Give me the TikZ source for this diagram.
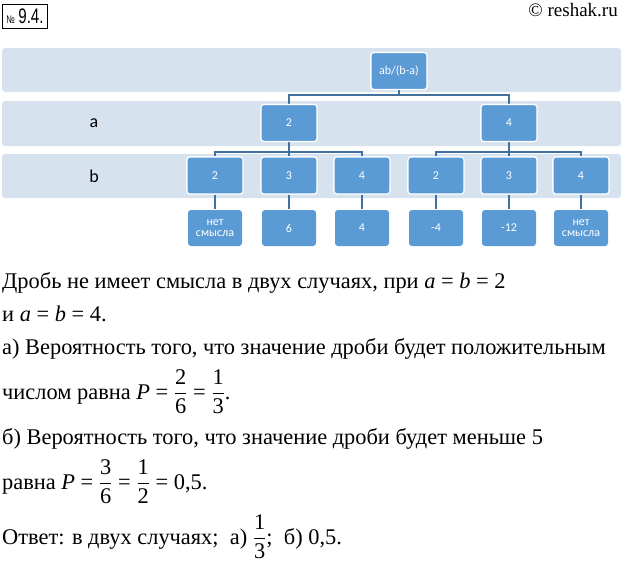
\documentclass[tikz,border=0pt]{standalone}
\usepackage{amsmath}
\usepackage{fontspec}
\setmainfont{Liberation Serif}
\newfontfamily\bodyfont{Liberation Serif}
\newfontfamily\calib{Carlito}
\newfontfamily\hdrfont{Liberation Sans}[FakeStretch=0.72]
\newfontfamily\timesplain{Liberation Serif}
\definecolor{bandc}{RGB}{214,227,239}
\definecolor{nodec}{RGB}{91,155,213}
\definecolor{linec}{RGB}{65,113,156}
\newcommand{\fr}[2]{$\dfrac{\text{\bodyfont #1}}{\text{\bodyfont #2}}$}
\tikzset{
  band/.style={fill=bandc, rounded corners=3pt},
  tnode/.style={fill=nodec, draw=white, line width=1.1pt, rounded corners=3pt,
    minimum width=56pt, minimum height=37pt, inner sep=0pt, text=white,
    font=\calib\fontsize{12}{13}\selectfont, align=center},
  rnode/.style={tnode, draw=none, minimum width=54pt, minimum height=36pt},
  conn/.style={draw=linec, line width=1.2pt},
  lab/.style={font=\calib\fontsize{18}{20}\selectfont, text=black},
  body/.style={anchor=base west, inner sep=0pt, font=\bodyfont\fontsize{22.4}{27}\selectfont}
}
\begin{document}
\begin{tikzpicture}[x=1pt,y=-1pt]
\useasboundingbox (0,0) rectangle (623,565);
% header
\node[draw, line width=1pt, inner sep=1pt, anchor=north west, minimum width=45pt, minimum height=24pt, font=\hdrfont\fontsize{21}{21}\selectfont] (num) at (2,4) {{\fontsize{11}{11}\selectfont №}\,9.4.};
\node[anchor=base east, inner sep=0pt, font=\timesplain\fontsize{19}{20}\selectfont] (site) at (618,16) {© reshak.ru};
% bands
\fill[band] (2,48) rectangle (621,92);
\fill[band] (2,101) rectangle (621,146);
\fill[band] (2,154) rectangle (621,198);
\node[lab] (la) at (94,123) {a};
\node[lab] (lb) at (94,176) {b};
% connector bus levels
\coordinate (bus0) at (0,95);
\coordinate (bus1) at (0,152);
% nodes
\node[tnode] (top) at (399,71) {ab/(b-a)};
\node[tnode] (a2) at (289,123) {2};
\node[tnode] (a4) at (509,123) {4};
\node[tnode] (b1) at (215,175.5) {2};
\node[tnode] (b2) at (289,175.5) {3};
\node[tnode] (b3) at (362,175.5) {4};
\node[tnode] (b4) at (436,175.5) {2};
\node[tnode] (b5) at (509,175.5) {3};
\node[tnode] (b6) at (581,175.5) {4};
\node[rnode] (r1) at (215,228) {нет\\[-2pt]смысла};
\node[rnode] (r2) at (289,228) {6};
\node[rnode] (r3) at (362,228) {4};
\node[rnode] (r4) at (436,228) {-4};
\node[rnode] (r5) at (509,228) {-12};
\node[rnode] (r6) at (581,228) {нет\\[-2pt]смысла};
% connectors
\draw[conn] (top.south) -- (top.south |- bus0) -| (a2.north);
\draw[conn] (top.south |- bus0) -| (a4.north);
\draw[conn] (a2.south) -- (a2.south |- bus1) -| (b1.north);
\draw[conn] (a2.south |- bus1) -| (b3.north);
\draw[conn] (a2.south |- bus1) -- (b2.north);
\draw[conn] (a4.south) -- (a4.south |- bus1) -| (b4.north);
\draw[conn] (a4.south |- bus1) -| (b6.north);
\draw[conn] (a4.south |- bus1) -- (b5.north);
\draw[conn] (b1.south) -- (r1.north);
\draw[conn] (b2.south) -- (r2.north);
\draw[conn] (b3.south) -- (r3.north);
\draw[conn] (b4.south) -- (r4.north);
\draw[conn] (b5.south) -- (r5.north);
\draw[conn] (b6.south) -- (r6.north);
% redraw boxes over connector ends
\node[tnode] at (top) {ab/(b-a)};
\node[tnode] at (a2) {2};
\node[tnode] at (a4) {4};
\node[tnode] at (b1) {2};
\node[tnode] at (b2) {3};
\node[tnode] at (b3) {4};
\node[tnode] at (b4) {2};
\node[tnode] at (b5) {3};
\node[tnode] at (b6) {4};
% text
\node[body] (t1) at (2,288.7) {Дробь не имеет смысла в двух случаях, при \textit{a} = \textit{b} = 2};
\node[body] (t2) at (2,321) {и \textit{a} = \textit{b} = 4.};
\node[body] (t3) at (2,354.7) {а) Вероятность того, что значение дроби будет положительным};
\node[body] (t4) at (2,399) {числом равна \textit{P} = \fr{2}{6} = \fr{1}{3}.};
\node[body] (t5) at (2,444) {б) Вероятность того, что значение дроби будет меньше 5};
\node[body] (t6) at (2,489) {равна \textit{P} = \fr{3}{6} = \fr{1}{2} = 0,5.};
\node[body] (t7) at (2,544) {Ответ: в двух случаях;\ \ а) \fr{1}{3};\ \ б) 0,5.};
\end{tikzpicture}
\end{document}
